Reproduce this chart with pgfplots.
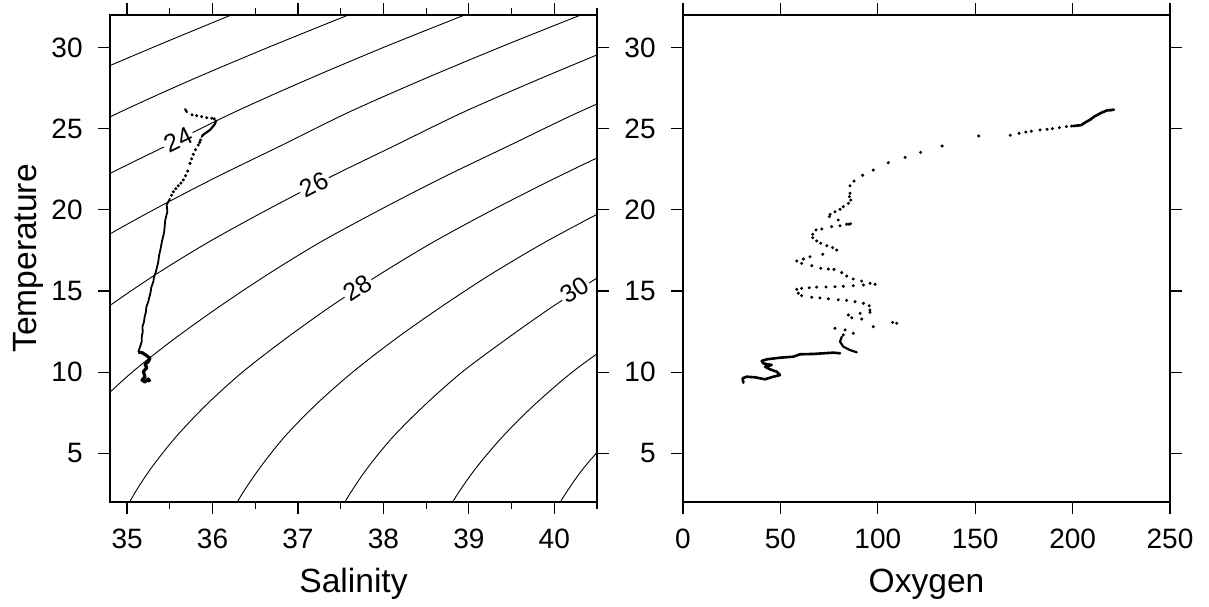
\documentclass[border=0pt]{standalone}
\usepackage{pgfplots}
\pgfplotsset{compat=1.18}
\usepackage{fontspec}
\setmainfont{Liberation Sans}
\begin{document}
\begin{tikzpicture}
\useasboundingbox (0pt,0pt) rectangle (604.5pt,303pt);
\tikzset{clab/.style={fill=white, inner sep=1pt, font=\fontsize{12.5}{14}\selectfont}}
\pgfplotsset{
  panel/.style={
    scale only axis, width=243.5pt, height=243.5pt,
    anchor=south west,
    axis line style={line width=1.2pt},
    ymin=2, ymax=32, ytick={5,10,15,20,25,30},
    tick align=outside,
    major tick length=6pt, minor tick length=3.6pt,
    tick style={line width=0.6pt, black},
    xtick pos=both, ytick pos=both,
    xticklabel pos=lower, yticklabel pos=left,
    /pgf/number format/assume math mode=true,
    ticklabel style={font=\fontsize{14}{16}\selectfont, inner sep=0pt},
    xticklabel style={anchor=north, yshift=-7.5pt},
    yticklabel style={anchor=east, xshift=-7.5pt},
    clip=true,
  },
  dots/.style={only marks, mark=*, mark size=0.55pt, black},
  dense/.style={black, line width=1.1pt, line join=round, line cap=round, mark=none},
  cont/.style={black, line width=0.45pt, smooth, mark=none},
}
% ---------------- left panel: T-S diagram ----------------
\begin{axis}[panel, at={(55pt,52pt)},
  xmin=34.8, xmax=40.5, xtick={35,36,37,38,39,40},
  minor xtick={35.5,36.5,37.5,38.5,39.5,40.5}]
% sigma-theta contours 22..32
\addplot[cont] coordinates {(33.56,26) (34.41,28) (35.30,30) (36.22,32) (36.71,33)};
\addplot[cont] coordinates {(34.15,24) (34.91,26) (35.75,28) (36.65,30) (37.59,32) (38.07,33)};
\addplot[cont] coordinates {(33.99,20) (34.71,22) (35.48,24) (36.25,26) (37.10,28) (38.00,30) (38.95,32) (39.43,33)};
\addplot[cont] coordinates {(34.02,16) (34.63,18) (35.31,20) (36.04,22) (36.82,24) (37.59,26) (38.45,28) (39.36,30) (40.31,32) (40.80,33)};
\addplot[cont] coordinates {(34.25,12) (34.77,14) (35.33,16) (35.95,18) (36.64,20) (37.37,22) (38.15,24) (38.93,26) (39.80,28) (40.71,30)};
\addplot[cont] coordinates {(34.30,6) (34.65,8) (35.06,10) (35.54,12) (36.07,14) (36.64,16) (37.26,18) (37.96,20) (38.70,22) (39.49,24) (40.28,26) (41.15,28)};
\addplot[cont] coordinates {(34.87,0) (35.03,2) (35.27,4) (35.57,6) (35.93,8) (36.35,10) (36.84,12) (37.37,14) (37.95,16) (38.58,18) (39.28,20) (40.03,22) (40.82,24)};
\addplot[cont] coordinates {(36.12,0) (36.29,2) (36.54,4) (36.84,6) (37.21,8) (37.64,10) (38.13,12) (38.67,14) (39.25,16) (39.89,18) (40.60,20)};
\addplot[cont] coordinates {(37.37,0) (37.55,2) (37.80,4) (38.11,6) (38.49,8) (38.92,10) (39.43,12) (39.97,14) (40.56,16)};
\addplot[cont] coordinates {(38.62,0) (38.81,2) (39.07,4) (39.39,6) (39.77,8) (40.21,10) (40.73,12)};
\addplot[cont] coordinates {(39.87,0) (40.07,2) (40.33,4) (40.66,6)};
\node[clab, rotate=26] at (axis cs:35.60,24.30) {24};
\node[clab, rotate=27.5] at (axis cs:37.19,21.55) {26};
\node[clab, rotate=33] at (axis cs:37.70,15.18) {28};
\node[clab, rotate=33] at (axis cs:40.24,15.05) {30};
% profile
\addplot[dense] coordinates {(35.68,26.20) (35.69,26.10) (35.70,26.02)};
\addplot[dots] coordinates {(35.76,25.85) (35.815,25.80) (35.873,25.74) (35.932,25.67) (35.990,25.64) (36.02,25.60)
 (35.86,24.30) (35.85,24.15) (35.833,23.99) (35.80,23.70) (35.775,23.42) (35.755,23.14) (35.736,22.86)
 (35.709,22.39) (35.685,22.10) (35.658,21.84) (35.630,21.65) (35.599,21.48) (35.570,21.30) (35.541,21.11) (35.520,20.90)};
\addplot[dense] coordinates {(36.041,25.50) (36.03,25.30) (36.00,25.10) (35.97,24.92) (35.93,24.77) (35.89,24.62) (35.873,24.50)};
\addplot[black, line width=0.9pt, line join=round] coordinates {(35.502,20.70) (35.464,20.30) (35.471,19.88) (35.455,19.55) (35.444,19.27) (35.440,18.95) (35.432,18.57)
 (35.41,18.10) (35.393,17.63) (35.375,17.20) (35.365,16.80) (35.338,16.19) (35.315,15.85) (35.307,15.57) (35.285,15.25) (35.276,14.95)
 (35.260,14.60) (35.248,14.34) (35.225,14.00) (35.221,13.72) (35.205,13.40) (35.198,13.11) (35.180,12.80) (35.183,12.49)
 (35.171,12.15) (35.171,11.87) (35.151,11.55) (35.131,11.24)};
\addplot[black, line width=1.6pt, line join=round] coordinates {(35.131,11.24) (35.183,11.18) (35.230,11.01) (35.268,10.85) (35.248,10.64) (35.210,10.48)
 (35.230,10.27) (35.190,10.03) (35.210,9.72) (35.175,9.51) (35.210,9.39) (35.248,9.58) (35.268,9.41)};
\end{axis}
% ---------------- right panel: Oxygen ----------------
\begin{axis}[panel, at={(341.5pt,52pt)},
  xmin=0, xmax=250, xtick={0,50,100,150,200,250}]
\addplot[dense, line width=1.3pt] coordinates {(200.4,25.16) (204.5,25.22) (206.7,25.40) (209,25.55) (211.2,25.75) (214.8,25.98) (217.6,26.12) (221.2,26.17) (219,26.12)};
\addplot[dots] coordinates {(199.5,25.16) (196.8,25.12) (193.2,25.06) (189.6,25.0) (186.9,24.96) (183.3,24.92) (178.8,24.84) (176,24.79) (172.5,24.71) (168,24.59) (151.8,24.55)
 (133,23.93) (122,23.54) (114,23.23) (105.4,22.90) (97.7,22.45) (92.2,22.13) (87.8,21.77) (85.7,21.48) (85.7,21.02)
 (85.4,20.81) (86.1,20.60) (84.9,20.40) (82.3,20.19) (80.6,20.03) (78.0,19.88) (75.5,19.72) (75.1,19.58) (79.7,19.37)
 (84.0,19.11) (85.2,19.11) (86.0,19.14) (80.6,19.02) (76.3,18.96) (71.2,18.82) (68.3,18.76) (66.6,18.49) (66.6,18.28)
 (68.6,18.08) (70.7,17.94) (73.8,17.79) (76.8,17.67) (78.9,17.52) (71.7,17.26) (65.2,17.11) (61.8,16.97) (58.4,16.85)
 (60.9,16.70) (66.1,16.56) (70.7,16.40) (74.6,16.35) (77.5,16.33) (81.5,16.13) (84.0,15.92) (87.4,15.74) (91.7,15.61)
 (96.0,15.47) (98.6,15.41) (92.6,15.37) (87.4,15.32) (82.3,15.29) (78.0,15.26) (73.4,15.24) (68.6,15.24) (64.8,15.20)
 (60.9,15.16) (58.4,15.10) (59.2,14.86) (60.9,14.71) (66.1,14.61) (70.3,14.57) (74.6,14.52) (79.7,14.46) (84.0,14.42)
 (88.3,14.34) (92.6,14.24) (95.6,14.09) (96.0,13.83) (96.0,13.69) (90.9,13.62) (84.9,13.52) (86.6,13.35) (91.7,13.27)
 (97.7,12.80) (107.6,13.07) (109.7,13.01) (78.0,12.70) (83.2,12.60) (87.4,12.39) (82.3,12.29)};
\addplot[dense] coordinates {(81.5,12.18) (80.6,11.87) (82.3,11.57) (85.7,11.36) (89.2,11.22)};
\addplot[dense, line width=1.3pt] coordinates {(80.6,11.16) (77.2,11.20) (72.0,11.16) (66.9,11.12) (60.1,11.10) (56.6,10.95) (49.8,10.89)
 (43.0,10.79) (40.4,10.69) (41.2,10.54) (45.5,10.44) (42.1,10.33) (44.7,10.17) (48.1,10.03) (49.8,9.82) (46.4,9.72)
 (42.1,9.56) (37.0,9.68) (32.7,9.72) (30.6,9.62) (31.0,9.35)};
\end{axis}
% ---------------- axis titles ----------------
\node[anchor=base, font=\fontsize{16.8}{19}\selectfont] at (176.75pt,7pt) {Salinity};
\node[anchor=base, font=\fontsize{16.8}{19}\selectfont] at (463.25pt,7pt) {Oxygen};
\node[rotate=90, anchor=base, font=\fontsize{16.8}{19}\selectfont] at (18pt,173.75pt) {Temperature};
\end{tikzpicture}
\end{document}
